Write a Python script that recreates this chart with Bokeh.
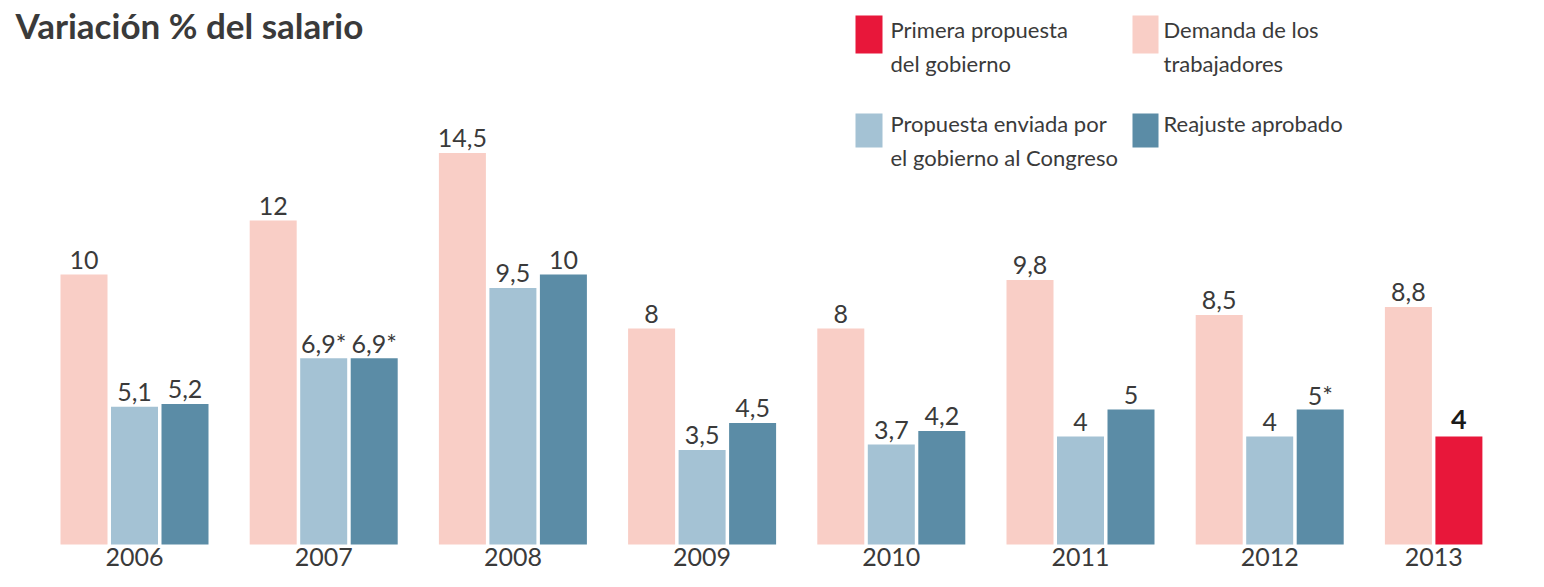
from bokeh.plotting import figure
from bokeh.models import Range1d, ColumnDataSource
from bokeh.embed import file_html
from bokeh.resources import INLINE
from bokeh.core.properties import value

# ---------------- data ----------------
years = ["2006", "2007", "2008", "2009", "2010", "2011", "2012", "2013"]
demanda = [10, 12, 14.5, 8, 8, 9.8, 8.5, 8.8]
enviada = [5.1, 6.9, 9.5, 3.5, 3.7, 4, 4]
enviada_note = [False, True, False, False, False, False, False]
aprobado = [5.2, 6.9, 10, 4.5, 4.2, 5, 5]
aprobado_note = [False, True, False, False, False, False, True]
primera_years = ["2013"]
primera = [4]

title = "Variación % del salario"
legend_items = [
    ("Primera propuesta", "del gobierno"),
    ("Demanda de los", "trabajadores"),
    ("Propuesta enviada por", "el gobierno al Congreso"),
    ("Reajuste aprobado",),
]

# ---------------- style ----------------
PINK = "#F9CEC6"
LIGHT = "#A4C2D4"
DARK = "#5B8CA6"
RED = "#E8173A"
TEXT = "#3A3A3A"
FONT = "Lato"
legend_colors = [RED, PINK, LIGHT, DARK]

W, H = 1528, 571
BASE = 544.0          # canvas y of the bar baseline
PX = 27.0             # pixels per percentage point
GROUP = 189.2         # pixels between year groups
STEP = 50.5           # pixels between bars within a group
BARW = 47.0
X0 = 83.5             # canvas x of first bar centre
SHIFT = 0.4           # rendered baseline sits this many em below anchor


def yv(cy):
    return (BASE - cy) / PX


def base_y(cy, fs):
    """data y that puts a text baseline at canvas y `cy` for font size fs"""
    return yv(cy - SHIFT * fs)


def fmt(v, note=False):
    s = ("%g" % v).replace(".", ",")
    return s + ("*" if note else "")


p = figure(width=W, height=H, x_range=Range1d(0, W),
           y_range=Range1d(-(H - BASE) / PX, BASE / PX),
           output_backend="svg", toolbar_location=None, min_border=0)
p.axis.visible = False
p.grid.visible = False
p.outline_line_color = None
p.background_fill_color = "white"
p.border_fill_color = "white"

idx = {y: i for i, y in enumerate(years)}


def xpos(year, slot):
    return X0 + GROUP * idx[year] + STEP * slot


VFS = 25
# bars
series = [
    (years, demanda, [False] * len(demanda), 0, PINK),
    (years[:len(enviada)], enviada, enviada_note, 1, LIGHT),
    (years[:len(aprobado)], aprobado, aprobado_note, 2, DARK),
]
for yrs, vals, notes, slot, col in series:
    src = ColumnDataSource(dict(
        x=[xpos(y, slot) for y in yrs], top=vals,
        lbl=[fmt(v, n) for v, n in zip(vals, notes)],
        ly=[v + (5 + SHIFT * VFS) / PX for v in vals]))
    p.vbar(x="x", top="top", bottom=0, width=BARW, source=src,
           fill_color=col, line_color=None)
    p.text(x="x", y="ly", text="lbl", source=src, text_align="center",
           text_baseline="alphabetic", text_font=value(FONT),
           text_font_size="%dpx" % VFS, text_color=TEXT)

RFS = 27
src_r = ColumnDataSource(dict(
    x=[xpos(y, 1) for y in primera_years], top=primera,
    lbl=[fmt(v) for v in primera],
    ly=[v + (6 + SHIFT * RFS) / PX for v in primera]))
p.vbar(x="x", top="top", bottom=0, width=BARW, source=src_r,
       fill_color=RED, line_color=None)
p.text(x="x", y="ly", text="lbl", source=src_r, text_align="center",
       text_baseline="alphabetic", text_font=value(FONT),
       text_font_size="%dpx" % RFS, text_font_style="bold", text_color="#1a1a1a")

# year labels
YFS = 25
year_x = [xpos(y, 0.5) if y in primera_years else xpos(y, 1) for y in years]
p.text(x=year_x, y=[base_y(566, YFS)] * len(years), text=years,
       text_align="center", text_baseline="alphabetic", text_font=value(FONT),
       text_font_size="%dpx" % YFS, text_color=TEXT)

# title
TFS = 35
p.text(x=[15], y=[base_y(38, TFS)], text=[title], text_baseline="alphabetic",
       text_font=value(FONT), text_font_size="%dpx" % TFS,
       text_font_style="bold", text_color="#3a3a3a")

# legend (2 x 2 grid)
LFS = 22
sw_left = [855, 1132]
sw_w = [27, 26]
rows = [(15, 53, 38), (113, 147, 132)]   # swatch top, swatch bottom, first baseline
txt_x = [890, 1163]
for k, (lines, col) in enumerate(zip(legend_items, legend_colors)):
    r, c = divmod(k, 2)
    top, bot, bl = rows[r]
    p.quad(left=[sw_left[c]], right=[sw_left[c] + sw_w[c]],
           top=[yv(top)], bottom=[yv(bot)], fill_color=col, line_color=None)
    for j, line in enumerate(lines):
        p.text(x=[txt_x[c]], y=[base_y(bl + 34 * j, LFS)], text=[line],
               text_baseline="alphabetic", text_font=value(FONT),
               text_font_size="%dpx" % LFS, text_color=TEXT)

open("out.html", "w").write(file_html(p, INLINE))
